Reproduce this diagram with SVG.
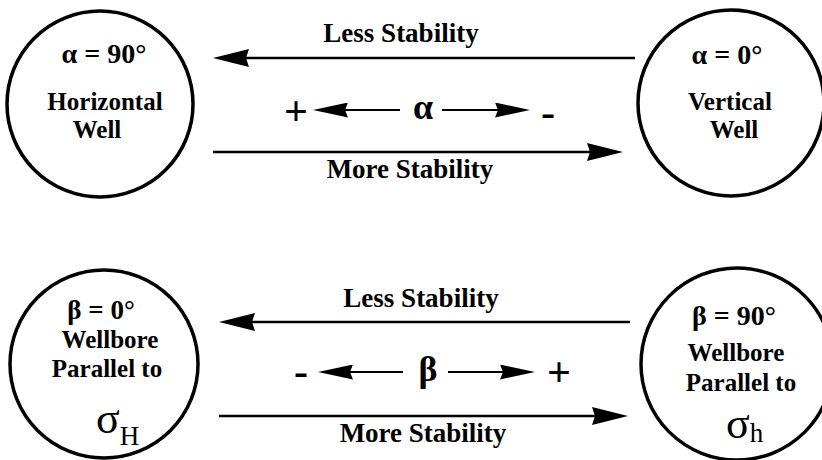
<svg xmlns="http://www.w3.org/2000/svg" width="822" height="460" viewBox="0 0 822 460">
<style>
.c{fill:none;stroke:#000;stroke-width:3.5}
.t{font-weight:bold;font-size:25px;fill:#000;text-anchor:middle}
.d{font-weight:bold;font-size:28px;fill:#000;text-anchor:middle}
.l{font-weight:bold;font-size:27px;fill:#000;text-anchor:middle}
.s{font-size:44px;fill:#000}
.sub{font-size:27px;fill:#000}
.big{stroke:#000;stroke-width:2.6;fill:none}
.sm{stroke:#000;stroke-width:2.2;fill:none}
.sym{font-weight:bold;font-size:42px;fill:#000;text-anchor:middle}
.g{font-weight:bold;font-size:36px;fill:#000;text-anchor:middle}
</style>
<defs>
<marker id="hb" markerUnits="userSpaceOnUse" viewBox="0 0 36 18" markerWidth="36" markerHeight="18" refX="16" refY="9" orient="auto">
<path d="M0,0 L36,9 L0,18 L3,9 z" fill="#000"/>
</marker>
<marker id="hs" markerUnits="userSpaceOnUse" viewBox="0 0 35 15" markerWidth="35" markerHeight="15" refX="15" refY="7.5" orient="auto">
<path d="M0,0 L35,7.5 L0,15 L3,7.5 z" fill="#000"/>
</marker>
</defs>
<rect width="822" height="460" fill="#fff"/>
<g font-family="Liberation Serif, Times New Roman, DejaVu Serif, serif">
<g id="node-horizontal">
<circle class="c" cx="100" cy="104" r="93"/>
<text class="d" x="104" y="63">α = 90°</text>
<text class="t" x="105" y="110">Horizontal</text>
<text class="t" x="97" y="138">Well</text>
</g>
<g id="node-vertical">
<circle class="c" cx="731" cy="103" r="93"/>
<text class="d" x="727" y="64">α = 0°</text>
<text class="t" x="730" y="110">Vertical</text>
<text class="t" x="734" y="138">Well</text>
</g>
<g id="node-parallel-H">
<circle class="c" cx="104" cy="364" r="94"/>
<text class="l" x="101" y="319">β = 0°</text>
<text class="t" x="110" y="348">Wellbore</text>
<text class="t" x="107" y="377">Parallel to</text>
<text x="96" y="433"><tspan class="s">σ</tspan><tspan class="sub" dy="12">H</tspan></text>
</g>
<g id="node-parallel-h">
<circle class="c" cx="737" cy="364" r="96"/>
<text class="d" x="734" y="325">β = 90°</text>
<text class="t" x="736" y="361">Wellbore</text>
<text class="t" x="741" y="391">Parallel to</text>
<text x="726" y="438"><tspan class="s">σ</tspan><tspan class="sub" dy="4">h</tspan></text>
</g>
<g id="connectors">
<line class="big" x1="635" y1="58" x2="233" y2="58" marker-end="url(#hb)"/>
<line class="big" x1="213" y1="152" x2="603" y2="152" marker-end="url(#hb)"/>
<line class="sm" x1="400" y1="110" x2="333" y2="110" marker-end="url(#hs)"/>
<line class="sm" x1="442" y1="110" x2="510" y2="110" marker-end="url(#hs)"/>
<line class="big" x1="630" y1="322" x2="239" y2="322" marker-end="url(#hb)"/>
<line class="big" x1="219" y1="416" x2="608" y2="416" marker-end="url(#hb)"/>
<line class="sm" x1="403" y1="372" x2="338" y2="372" marker-end="url(#hs)"/>
<line class="sm" x1="448" y1="372" x2="515" y2="372" marker-end="url(#hs)"/>
</g>
<g id="labels">
<text class="l" x="401" y="42">Less Stability</text>
<text class="l" x="410" y="178">More Stability</text>
<text class="sym" x="296" y="125">+</text>
<text class="g" x="423" y="119">α</text>
<text class="sym" x="548" y="126">-</text>
<text class="l" x="421" y="307">Less Stability</text>
<text class="l" x="423" y="442">More Stability</text>
<text class="sym" x="301" y="385">-</text>
<text class="g" x="428" y="381">β</text>
<text class="sym" x="559" y="386">+</text>
</g>
</g>
</svg>
